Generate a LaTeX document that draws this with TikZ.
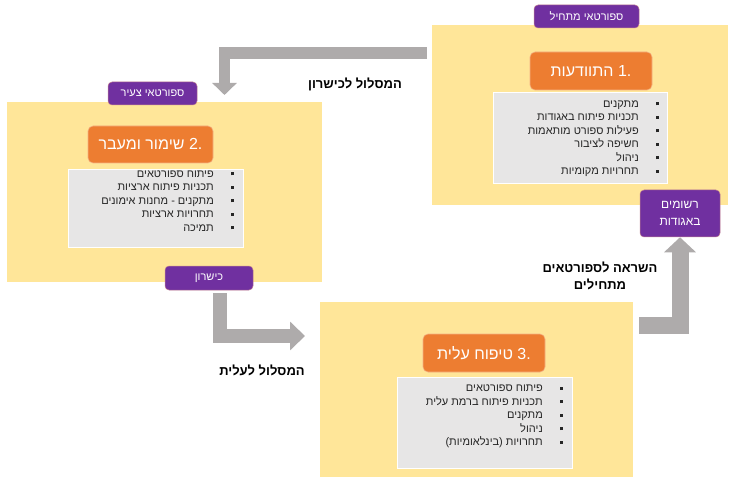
\documentclass[tikz,border=0pt]{standalone}
\usepackage{fontspec}
\setmainfont{Liberation Sans}
\newfontfamily\heb[Script=Hebrew]{Liberation Sans}
\TeXXeTstate=1
\usetikzlibrary{arrows.meta}
\definecolor{ylw}{HTML}{FFE699}
\definecolor{org}{HTML}{ED7D31}
\definecolor{orgedge}{HTML}{F4B183}
\definecolor{prp}{HTML}{7030A0}
\definecolor{lst}{HTML}{E7E6E6}
\definecolor{arr}{HTML}{AEABAB}
\definecolor{txt}{HTML}{262626}
\newcommand\hebR[1]{\beginR #1\endR}
\newcommand\itm[1]{\hebR{#1} & \rule[2pt]{3pt}{3pt}\\}
\newenvironment{hlist}{\fontsize{11}{13.5}\selectfont\color{txt}\begin{tabular}[t]{@{}r@{\hspace{17.5pt}}l@{}}}{\end{tabular}}
\tikzset{
  stage/.style={fill=ylw, draw=none, minimum width=#1, inner sep=0pt},
  listbox/.style={fill=lst, draw=white, line width=0.8pt, inner sep=0pt},
  listtext/.style={anchor=base east, inner sep=0pt, font=\heb},
  title/.style={fill=org, draw=orgedge, line width=0.6pt, rounded corners=5pt, text=white, font=\heb\fontsize{16}{18}\selectfont, inner sep=0pt},
  tag/.style={fill=prp, draw=orgedge!60!prp, line width=0.5pt, rounded corners=4pt, text=white, font=\heb\fontsize{11}{13}\selectfont, inner sep=0pt},
  lbl/.style={font=\heb\bfseries\fontsize{13}{17}\selectfont, text=black, align=center, inner sep=0pt},
  bigarrow/.style={draw=arr, line cap=butt, line join=miter},
}
\begin{document}
\begin{tikzpicture}[x=1pt,y=-1pt]
\useasboundingbox (0,0) rectangle (738,478);
% stage panels
\node[stage, minimum width=296pt, minimum height=180pt] (b1) at (580,115) {};
\node[stage, minimum width=315pt, minimum height=180pt] (b2) at (164.5,192) {};
\node[stage, minimum width=313pt, minimum height=175pt] (b3) at (476.5,389.5) {};
% list boxes
\node[listbox, minimum width=174pt, minimum height=91pt] (l1) at (580,137.5) {};
\node[listbox, minimum width=175pt, minimum height=78pt] (l2) at (155.5,208) {};
\node[listbox, minimum width=175pt, minimum height=91pt] (l3) at (484.5,422.5) {};
\node[listtext] (t1) at (659.5,107.5) {\begin{hlist}
\itm{מתקנים}
\itm{תכניות פיתוח באגודות}
\itm{פעילות ספורט מותאמות}
\itm{חשיפה לציבור}
\itm{ניהול}
\itm{תחרויות מקומיות}
\end{hlist}};
\node[listtext] (t2) at (234.5,177.5) {\begin{hlist}
\itm{פיתוח ספורטאים}
\itm{תכניות פיתוח ארציות}
\itm{מתקנים - מחנות אימונים}
\itm{תחרויות ארציות}
\itm{תמיכה}
\end{hlist}};
\node[listtext] (t3) at (563.5,391.5) {\begin{hlist}
\itm{פיתוח ספורטאים}
\itm{תכניות פיתוח ברמת עלית}
\itm{מתקנים}
\itm{ניהול}
\itm{תחרויות (בינלאומיות)}
\end{hlist}};
% titles
\node[title, minimum width=122pt, minimum height=38pt] (o1) at (591,71) {\hebR{התוודעות}\ .1};
\node[title, minimum width=125pt, minimum height=37pt] (o2) at (150.5,144.5) {\hebR{שימור ומעבר}\ .2};
\node[title, minimum width=122pt, minimum height=38pt] (o3) at (484,353) {\hebR{טיפוח עלית}\ .3};
% tags
\node[tag, minimum width=105pt, minimum height=23pt] (p1) at (586.5,16.5) {\hebR{ספורטאי מתחיל}};
\node[tag, minimum width=89pt, minimum height=23pt] (p2) at (152.5,93.5) {\hebR{ספורטאי צעיר}};
\node[tag, minimum width=88pt, minimum height=24pt] (p3) at (209,278) {\hebR{כישרון}};
\node[tag, minimum width=80pt, minimum height=47pt, align=center, font=\heb\fontsize{12}{17}\selectfont] (p4) at (680,213.5) {\hebR{רשומים}\\\hebR{באגודות}};
% labels
\node[lbl] (lab1) at (355,84) {\hebR{המסלול לכישרון}};
\node[lbl] (lab2) at (262,370) {\hebR{המסלול לעלית}};
\node[lbl] (lab3) at (600,276) {\hebR{השראה לספורטאים}\\\hebR{מתחילים}};
% arrows
\coordinate (a1s) at (427,53);
\coordinate (a1e) at (224.5,95);
\draw[bigarrow, line width=11.5pt, -{Triangle[width=24pt,length=12pt]}] (a1s) -| (a1e);
\coordinate (a2s) at (220,293);
\coordinate (a2e) at (305,336);
\draw[bigarrow, line width=14pt, -{Triangle[width=28pt,length=15pt]}] (a2s) |- (a2e);
\coordinate (a3s) at (639,325.5);
\draw[bigarrow, line width=17pt, -{Triangle[width=31pt,length=15pt]}] (a3s) -| (p4.south);
\end{tikzpicture}
\end{document}
